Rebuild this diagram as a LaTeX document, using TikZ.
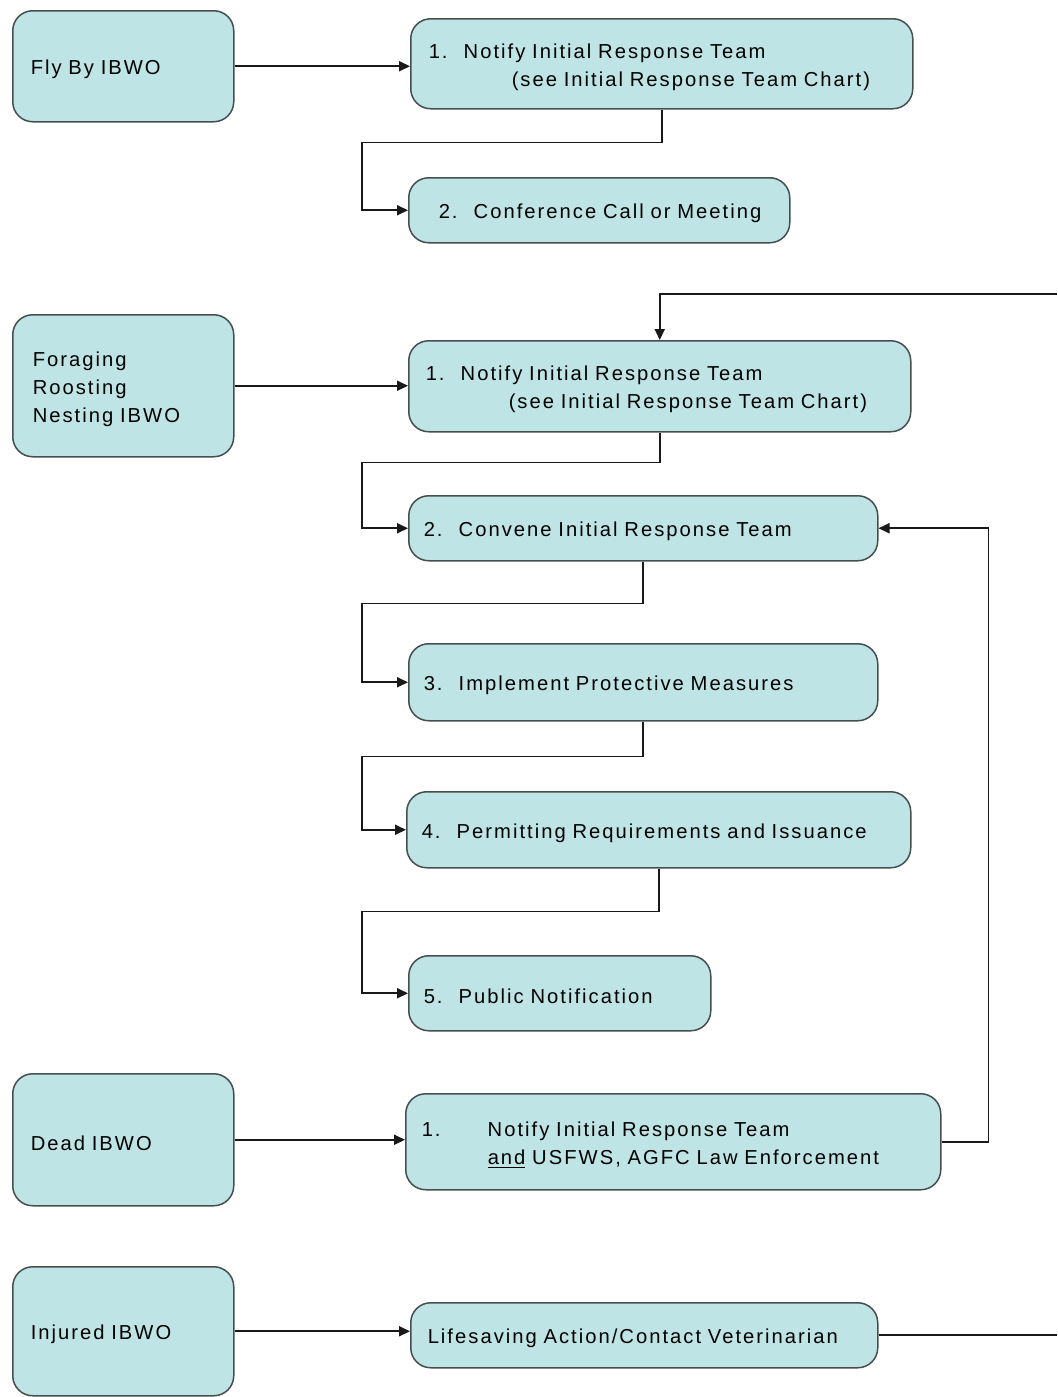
\documentclass[tikz,border=0pt]{standalone}
\usepackage{fontspec}
\setmainfont{Liberation Sans}[LetterSpace=10]
\usetikzlibrary{arrows.meta,calc}
\definecolor{boxfill}{RGB}{190,228,230}
\definecolor{boxline}{RGB}{70,78,80}
\tikzset{
  box/.style={draw=boxline, fill=boxfill, rounded corners=10pt, line width=0.75pt,
    align=left, anchor=north west, inner ysep=0pt,
    font=\fontsize{10.1}{14}\selectfont,
    execute at begin node={\rule{0pt}{10.6pt}}},
  conn/.style={line width=0.95pt, draw=black!90},
  arr/.style={conn, -{Triangle[length=5.5pt,width=5pt]}},
}
\newcommand{\numl}[1]{\makebox[17.5pt][l]{#1}}
\begin{document}
\begin{tikzpicture}[x=0.5pt,y=-0.5pt]
\useasboundingbox (0,0) rectangle (1057,1397);
% left boxes
\node[box, text width=92.5pt, inner xsep=9pt, minimum height=55.5pt] (A) at (12,10) {Fly By IBWO};
\node[box, text width=90.5pt, inner xsep=10pt, minimum height=71pt] (C) at (12,314) {Foraging\\Roosting\\Nesting IBWO};
\node[box, text width=92.5pt, inner xsep=9pt, minimum height=66pt] (E) at (12,1073) {Dead IBWO};
\node[box, text width=92.5pt, inner xsep=9pt, minimum height=64.5pt] (F) at (12,1266) {Injured IBWO};
% right boxes
\node[box, text width=233pt, inner xsep=9pt, minimum height=45pt] (B1) at (410,18)
  {\numl{1.}Notify Initial Response Team\\\hspace*{41.5pt}(see Initial Response Team Chart)};
\node[box, text width=160.5pt, inner xsep=15pt, minimum height=32.5pt] (B2) at (408,177)
  {\numl{2.}Conference Call or Meeting};
\node[box, text width=234pt, inner xsep=8.5pt, minimum height=45.5pt] (D1) at (408,340)
  {\numl{1.}Notify Initial Response Team\\\hspace*{41.5pt}(see Initial Response Team Chart)};
\node[box, text width=219.5pt, inner xsep=7.5pt, minimum height=32.5pt] (D2) at (408,495)
  {\numl{2.}Convene Initial Response Team};
\node[box, text width=219.5pt, inner xsep=7.5pt, minimum height=38.5pt] (D3) at (408,643)
  {\numl{3.}Implement Protective Measures};
\node[box, text width=237pt, inner xsep=7.5pt, minimum height=38pt] (D4) at (406,791)
  {\numl{4.}Permitting Requirements and Issuance};
\node[box, text width=136pt, inner xsep=7.5pt, minimum height=37.5pt] (D5) at (408,955)
  {\numl{5.}Public Notification};
\node[box, text width=251.5pt, inner xsep=8pt, minimum height=48pt] (E1) at (405,1093)
  {\makebox[33pt][l]{1.}Notify Initial Response Team\\\hspace*{33pt}\underline{and} USFWS, AGFC Law Enforcement};
\node[box, text width=216.5pt, inner xsep=8.5pt, minimum height=32.5pt] (F1) at (410,1302)
  {Lifesaving Action/Contact Veterinarian};
% free ends
\coordinate (topin) at (1057,294);
\coordinate (outF) at (1057,1334);
% connectors
\draw[arr] (A.east) -- (A.east -| B1.west);
\draw[arr] (B1.south) -- ++(0,33) -| ([xshift=-23pt]B2.west) -- (B2.west);
\draw[arr] (C.east) -- (C.east -| D1.west);
\draw[arr] (topin) -| (D1.north);
\draw[arr] (D1.south) -- ++(0,30) -| ([xshift=-23pt]D2.west) -- (D2.west);
\draw[arr] (D2.south) -- ++(0,42) -| ([xshift=-23pt]D3.west) -- (D3.west);
\draw[arr] (D3.south) -- ++(0,35) -| ([xshift=-22pt]D4.west) -- (D4.west);
\draw[arr] (D4.south) -- ++(0,43) -| ([xshift=-23pt]D5.west) -- (D5.west);
\draw[arr] (E.east) -- (E.east -| E1.west);
\draw[arr] (E1.east) -- ++(47,0) |- (D2.east);
\draw[arr] (F.east) -- (F.east -| F1.west);
\draw[conn] (F1.east) -- (F1.east -| outF);
\end{tikzpicture}
\end{document}
